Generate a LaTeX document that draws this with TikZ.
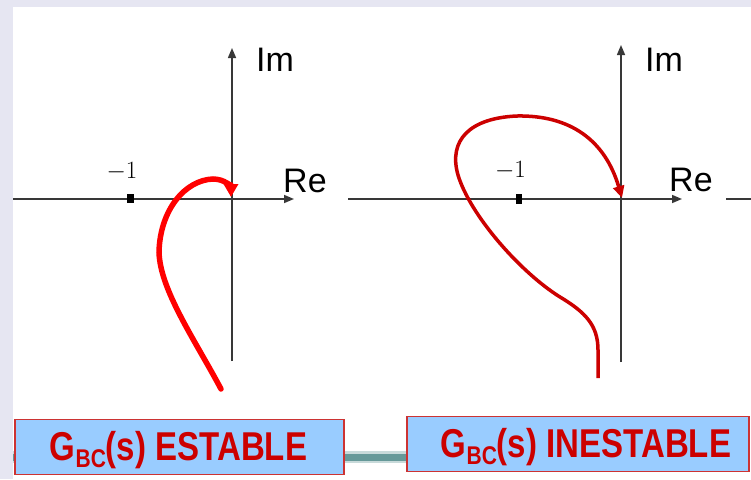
\documentclass[tikz,border=0pt]{standalone}
\usepackage{fontspec}
\setsansfont{Liberation Sans}
\usetikzlibrary{arrows.meta}
\definecolor{frame}{HTML}{E6E6F2}
\definecolor{boxfill}{HTML}{99CCFF}
\definecolor{boxline}{HTML}{CC3333}
\definecolor{txtred}{HTML}{CC0000}
\definecolor{curvedark}{HTML}{CC0000}
\definecolor{bar}{HTML}{669999}
\definecolor{barhalo}{HTML}{C8DADA}
\tikzset{
  axis/.style={draw=black!78, line width=1.5pt},
  axisarrow/.style={axis, -{Triangle[length=10pt,width=8pt]}},
  tick/.style={fill=black, inner sep=0pt, minimum width=6.5pt, minimum height=9.5pt},
  axlabel/.style={font=\sffamily\fontsize{34}{38}\selectfont, inner sep=0pt, anchor=base west},
  minusone/.style={font=\fontsize{30}{34}\selectfont, inner sep=0pt},
  gbox/.style={draw=boxline, fill=boxfill, line width=1.5pt, inner sep=0pt},
  gtext/.style={font=\sffamily\bfseries\fontsize{33}{38}\selectfont, text=txtred, inner sep=0pt, anchor=base},
}
\newcommand{\gbcsub}{\raisebox{-6pt}{\fontsize{21}{24}\selectfont BC}}
\newcommand{\tallish}[1]{\scalebox{1}[1.22]{#1}}
\begin{document}
\begin{tikzpicture}[x=1pt,y=-1pt]
\useasboundingbox (0,0) rectangle (751,479);
% background frame
\fill[frame] (0,0) rectangle (751,479);
\fill[white] (13,7) rectangle (751,479);

% ---------- left plot ----------
\coordinate (lxs) at (13,199);
\coordinate (lxe) at (294,199);
\coordinate (lys) at (232,361);
\coordinate (lye) at (232,48);
\draw[axisarrow] (lxs) -- (lxe);
\draw[axisarrow] (lys) -- (lye);
\node[tick] (ltick) at (130.5,198.5) {};
\node[minusone] (lm1) at (122,172) {$-1$};
\node[axlabel] (lim) at (256,71) {Im};
\node[axlabel] (lre) at (283,192) {Re};
\draw[red, line width=5.5pt, line cap=round, -{Triangle[length=13pt,width=14pt]}]
  (221,389) .. controls (195,340) and (160,290) .. (159,252)
  .. controls (160,210) and (185,180) .. (213,179)
  .. controls (225,179) and (231,187) .. (231,197);

% ---------- right plot ----------
\coordinate (rxs) at (348,199);
\coordinate (rxe) at (682,199);
\coordinate (rys) at (621,362);
\coordinate (rye) at (621,45);
\draw[axisarrow] (rxs) -- (rxe);
\draw[axisarrow] (rys) -- (rye);
\node[tick] (rtick) at (519,199) {};
\node[minusone] (rm1) at (510.5,170.5) {$-1$};
\node[axlabel] (rim) at (645,71) {Im};
\node[axlabel] (rre) at (669,191) {Re};
\coordinate (sxs) at (726,199);
\coordinate (sxe) at (751,199);
\draw[axis] (sxs) -- (sxe);
\draw[curvedark, line width=3.5pt, -{Triangle[length=12pt,width=11pt]}]
  (598,378) -- (598,350) .. controls (598,325) and (585,312) .. (560,297)
  .. controls (520,272) and (470,215) .. (458,175)
  .. controls (448,140) and (470,118) .. (517,116)
  .. controls (570,115) and (605,140) .. (622,198);

% ---------- boxes ----------
\coordinate (barl) at (13,457);
\coordinate (barr) at (410,457);
\draw[barhalo, line width=12pt] (barl) -- (barr);
\draw[bar, line width=7pt] (barl) -- (barr);
\node[gbox, minimum width=329pt, minimum height=55pt] (lbox) at (179.5,447) {};
\node[gbox, minimum width=342pt, minimum height=55pt] (rbox) at (578,444) {};
\node[gtext] (ltxt) at (178.5,460) {\tallish{G\gbcsub(s) ESTABLE}};
\node[gtext] (rtxt) at (586,457) {\tallish{G\gbcsub(s) INESTABLE}};
\end{tikzpicture}
\end{document}
